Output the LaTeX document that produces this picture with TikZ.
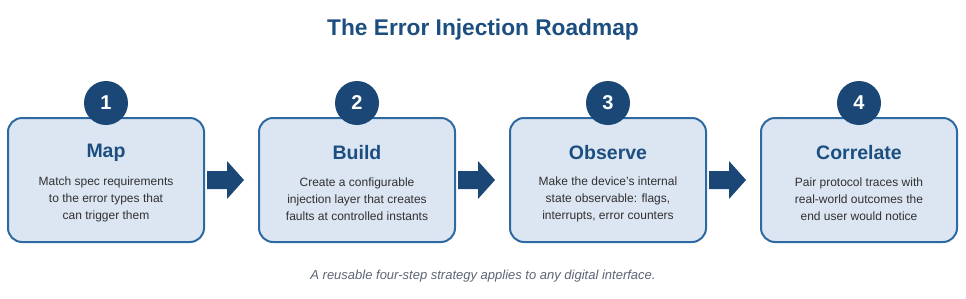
\documentclass[tikz,border=0pt]{standalone}
\usepackage{fontspec}
\setmainfont{Liberation Sans}
\usetikzlibrary{calc}
\definecolor{titleblue}{HTML}{1C4E80}
\definecolor{darkblue}{HTML}{1A4775}
\definecolor{boxfill}{HTML}{DCE6F3}
\definecolor{boxline}{HTML}{2F69A2}
\definecolor{bodytext}{HTML}{303030}
\definecolor{captext}{HTML}{5B6573}
\tikzset{
  x=1pt,y=1pt,
  stepbox/.style={draw=boxline, line width=2pt, fill=boxfill, rounded corners=14pt,
    minimum width=196pt, minimum height=124pt, inner sep=0pt},
  badge/.style={circle, fill=darkblue, minimum size=44pt, inner sep=0pt,
    text=white, font=\fontsize{20}{24}\selectfont\bfseries},
  steptitle/.style={text=titleblue, font=\fontsize{19.5}{24}\selectfont\bfseries},
  stepdesc/.style={text=bodytext, align=center, font=\fontsize{12}{17}\selectfont},
  flow/.style={fill=darkblue}
}
\begin{document}
\begin{tikzpicture}
\useasboundingbox (0,0) rectangle (966,-298);
\node[text=titleblue, font=\fontsize{22.7}{28}\selectfont\bfseries] (title) at (483,-30) {The Error Injection Roadmap};

\foreach \i/\cx/\ttl/\desc in {
  1/106/Map/{Match spec requirements\\to the error types that\\can trigger them},
  2/357/Build/{Create a configurable\\injection layer that creates\\faults at controlled instants},
  3/608/Observe/{Make the device’s internal\\state observable: flags,\\interrupts, error counters},
  4/859/Correlate/{Pair protocol traces with\\real-world outcomes the\\end user would notice}}{
  \node[stepbox] (b\i) at (\cx,-180) {};
  \node[badge] (n\i) at (\cx,-103) {\i};
  \node[steptitle] (t\i) at (\cx,-153) {\ttl};
  \node[stepdesc] (d\i) at (\cx,-199) {\desc};
}

\foreach \a/\b in {1/2,2/3,3/4}{
  \fill[flow] ($(b\a.east)+(2,9)$) -- ($(b\b.west)+(-31,9)$) -- ($(b\b.west)+(-31,19)$)
    -- ($(b\b.west)+(-14,0)$) -- ($(b\b.west)+(-31,-19)$) -- ($(b\b.west)+(-31,-9)$)
    -- ($(b\a.east)+(2,-9)$) -- cycle;
}

\node[text=captext, font=\fontsize{13}{16}\selectfont\itshape] (cap) at (483,-276) {A reusable four-step strategy applies to any digital interface.};
\end{tikzpicture}
\end{document}
